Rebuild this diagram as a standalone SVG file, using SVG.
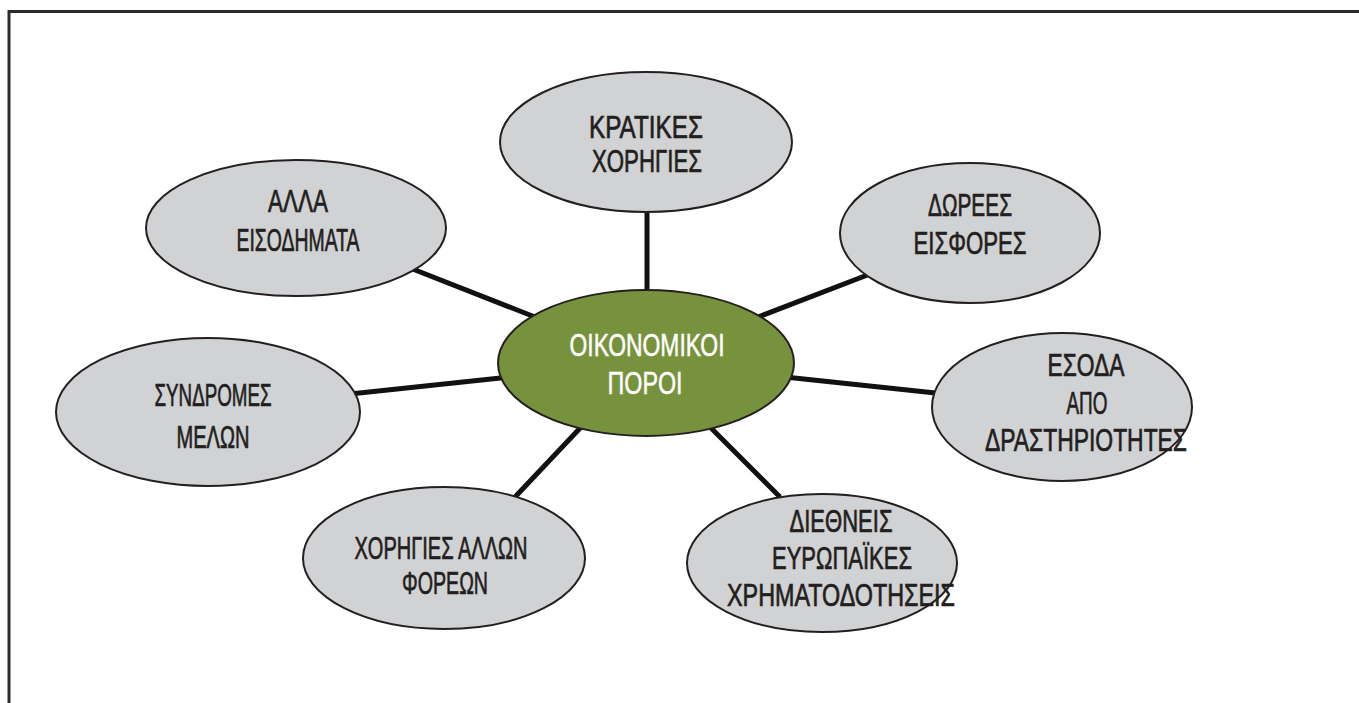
<svg xmlns="http://www.w3.org/2000/svg" width="1359" height="703" viewBox="0 0 1359 703">
<style>
.frame{fill:none;stroke:#2b2b2b;stroke-width:3}
.link{stroke:#111;stroke-width:5;stroke-linecap:butt}
.node{fill:#d1d2d4;stroke:#231f20;stroke-width:2}
.hub{fill:#76923c;stroke:#231f20;stroke-width:2}
text{font-family:"Liberation Sans Narrow","Liberation Sans",Arial,sans-serif;font-size:31px;fill:#231f20;stroke:#231f20;stroke-width:0.7;text-anchor:middle}
.hub-t{fill:#fff;stroke:#fff;stroke-width:0.5}
</style>
<rect width="1359" height="703" fill="#fff"/>
<path class="frame" d="M9,703 V11.5 H1359"/>
<g id="connectors">
<line class="link" x1="647" y1="205" x2="647" y2="295"/>
<line class="link" x1="405" y1="266" x2="540" y2="319"/>
<line class="link" x1="753" y1="319" x2="883" y2="269"/>
<line class="link" x1="350" y1="394" x2="510" y2="377"/>
<line class="link" x1="785" y1="377" x2="945" y2="394"/>
<line class="link" x1="583" y1="425" x2="515" y2="497"/>
<line class="link" x1="708" y1="425" x2="780" y2="497"/>
</g>
<g id="node-kratikes">
<ellipse class="node" cx="646" cy="142" rx="146" ry="70"/>
<text x="646" y="138" textLength="114" lengthAdjust="spacingAndGlyphs">ΚΡΑΤΙΚΕΣ</text>
<text x="647" y="172" textLength="110" lengthAdjust="spacingAndGlyphs">ΧΟΡΗΓΙΕΣ</text>
</g>
<g id="node-alla">
<ellipse class="node" cx="296" cy="228" rx="150" ry="68"/>
<text x="298" y="212" textLength="60" lengthAdjust="spacingAndGlyphs">ΑΛΛΑ</text>
<text x="298" y="251" textLength="123" lengthAdjust="spacingAndGlyphs">ΕΙΣΟΔΗΜΑΤΑ</text>
</g>
<g id="node-dorees">
<ellipse class="node" cx="970" cy="233" rx="130" ry="70"/>
<text x="970" y="216" textLength="84" lengthAdjust="spacingAndGlyphs">ΔΩΡΕΕΣ</text>
<text x="970" y="254" textLength="113" lengthAdjust="spacingAndGlyphs">ΕΙΣΦΟΡΕΣ</text>
</g>
<g id="node-syndromes">
<ellipse class="node" cx="208" cy="412" rx="152" ry="74"/>
<text x="213" y="406" textLength="117" lengthAdjust="spacingAndGlyphs">ΣΥΝΔΡΟΜΕΣ</text>
<text x="213" y="448" textLength="73" lengthAdjust="spacingAndGlyphs">ΜΕΛΩΝ</text>
</g>
<g id="node-esoda">
<ellipse class="node" cx="1062" cy="407" rx="130" ry="74"/>
<text x="1086" y="376" textLength="77" lengthAdjust="spacingAndGlyphs">ΕΣΟΔΑ</text>
<text x="1087" y="414" textLength="41" lengthAdjust="spacingAndGlyphs">ΑΠΟ</text>
<text x="1086" y="451" textLength="202" lengthAdjust="spacingAndGlyphs">ΔΡΑΣΤΗΡΙΟΤΗΤΕΣ</text>
</g>
<g id="node-xorhgies-allwn">
<ellipse class="node" cx="444" cy="558" rx="141" ry="71"/>
<text x="441" y="559" textLength="173" lengthAdjust="spacingAndGlyphs">ΧΟΡΗΓΙΕΣ ΑΛΛΩΝ</text>
<text x="445" y="594" textLength="86" lengthAdjust="spacingAndGlyphs">ΦΟΡΕΩΝ</text>
</g>
<g id="node-diethneis">
<ellipse class="node" cx="822" cy="563" rx="135" ry="69"/>
<text x="841" y="532" textLength="103" lengthAdjust="spacingAndGlyphs">ΔΙΕΘΝΕΙΣ</text>
<text x="842" y="569" textLength="140" lengthAdjust="spacingAndGlyphs">ΕΥΡΩΠΑΪΚΕΣ</text>
<text x="841" y="606" textLength="228" lengthAdjust="spacingAndGlyphs">ΧΡΗΜΑΤΟΔΟΤΗΣΕΙΣ</text>
</g>
<g id="node-oikonomikoi">
<ellipse class="hub" cx="646" cy="363" rx="148" ry="73"/>
<text class="hub-t" x="647" y="356" textLength="155" lengthAdjust="spacingAndGlyphs">ΟΙΚΟΝΟΜΙΚΟΙ</text>
<text class="hub-t" x="645" y="394" textLength="75" lengthAdjust="spacingAndGlyphs">ΠΟΡΟΙ</text>
</g>
</svg>
